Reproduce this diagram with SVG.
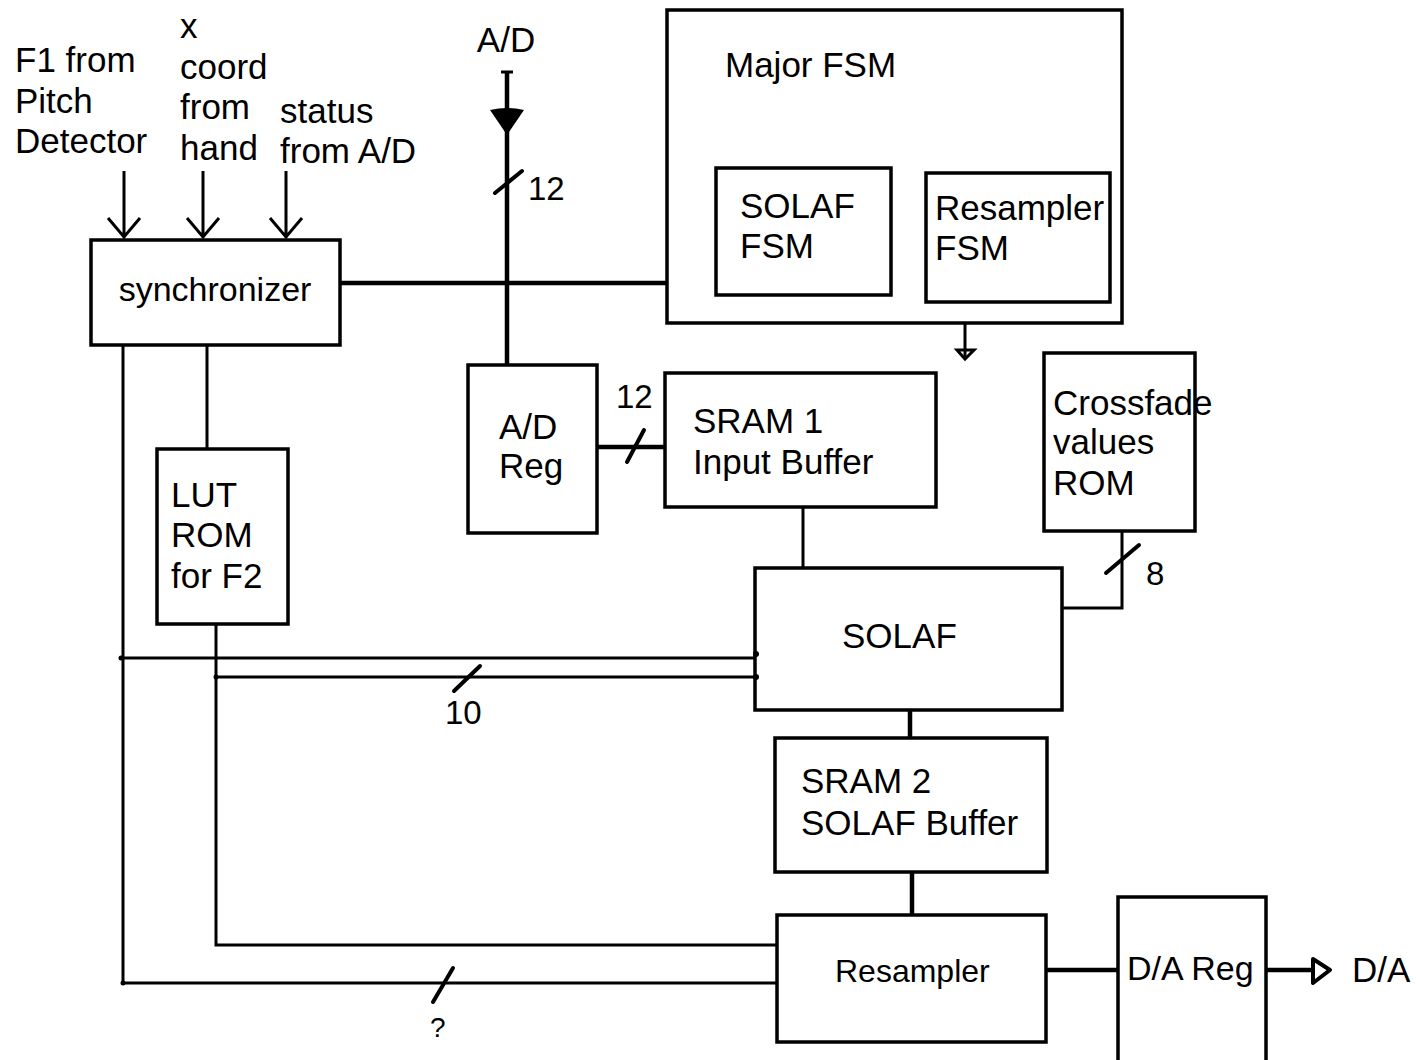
<svg xmlns="http://www.w3.org/2000/svg" width="1416" height="1060" viewBox="0 0 1416 1060">
<defs>
<style>
.box{fill:none;stroke:#000;stroke-width:3.5}
.w{fill:none;stroke:#000;stroke-width:3}
.tk{fill:none;stroke:#000;stroke-width:4.5}
.sl{fill:none;stroke:#000;stroke-width:4;stroke-linecap:round}
text{font-family:"Liberation Sans",Arial,sans-serif;font-size:35px;fill:#000}
.s34{font-size:34px}
.s32{font-size:32px}
.n{font-size:33px}
</style>
</defs>
<rect width="1416" height="1060" fill="#fff"/>

<g id="labels">
<text x="15" y="72">F1 from</text>
<text x="15" y="113">Pitch</text>
<text x="15" y="153">Detector</text>
<text x="180" y="38">x</text>
<text x="180" y="79">coord</text>
<text x="180" y="119">from</text>
<text x="180" y="160">hand</text>
<text x="280" y="123">status</text>
<text x="280" y="163">from A/D</text>
<text x="506" y="52" text-anchor="middle">A/D</text>
<text x="1352" y="982">D/A</text>
</g>

<g id="synchronizer">
<rect class="box" x="91" y="240" width="249" height="105"/>
<text class="s34" x="215" y="301" text-anchor="middle">synchronizer</text>
</g>

<g id="major-fsm">
<rect class="box" x="667" y="10" width="455" height="313"/>
<text x="725" y="77">Major FSM</text>
</g>

<g id="solaf-fsm">
<rect class="box" x="716" y="168" width="175" height="127"/>
<text x="740" y="218">SOLAF</text>
<text x="740" y="258">FSM</text>
</g>

<g id="resampler-fsm">
<rect class="box" x="926" y="173" width="184" height="129"/>
<text x="935" y="220">Resampler</text>
<text x="935" y="260">FSM</text>
</g>

<g id="ad-reg">
<rect class="box" x="468" y="365" width="129" height="168"/>
<text x="499" y="439">A/D</text>
<text x="499" y="478">Reg</text>
</g>

<g id="sram1">
<rect class="box" x="665" y="373" width="271" height="134"/>
<text x="693" y="433">SRAM 1</text>
<text x="693" y="474">Input Buffer</text>
</g>

<g id="crossfade-rom">
<rect class="box" x="1044" y="353" width="151" height="178"/>
<text x="1053" y="415">Crossfade</text>
<text x="1053" y="454">values</text>
<text x="1053" y="495">ROM</text>
</g>

<g id="lut-rom">
<rect class="box" x="157" y="449" width="131" height="175"/>
<text x="171" y="507">LUT</text>
<text x="171" y="547">ROM</text>
<text x="171" y="588">for F2</text>
</g>

<g id="solaf">
<rect class="box" x="755" y="568" width="307" height="142"/>
<text x="842" y="648">SOLAF</text>
</g>

<g id="sram2">
<rect class="box" x="775" y="738" width="272" height="134"/>
<text x="801" y="793">SRAM 2</text>
<text x="801" y="835">SOLAF Buffer</text>
</g>

<g id="resampler">
<rect class="box" x="777" y="915" width="269" height="127"/>
<text class="s32" x="835" y="982">Resampler</text>
</g>

<g id="da-reg">
<rect class="box" x="1118" y="897" width="148" height="175"/>
<text class="s34" x="1127" y="980">D/A Reg</text>
</g>

<g id="connectors">
<!-- inputs to synchronizer -->
<path class="w" d="M124,171V238M108,218L124,237L140,218"/>
<path class="w" d="M203,171V238M187,218L203,237L219,218"/>
<path class="w" d="M286,171V238M270,218L286,237L302,218"/>
<!-- synchronizer to Major FSM -->
<path class="tk" d="M340,283H667"/>
<!-- A/D input -->
<path class="tk" d="M507,72V365"/>
<path class="w" d="M501,72H513"/>
<path d="M490,110Q507,106 524,110L509,132L505,132Z" fill="#000"/>
<path class="sl" d="M495,193L522,171"/>
<text class="n" x="528" y="200">12</text>
<!-- A/D Reg to SRAM 1 -->
<path class="tk" d="M597,447H665"/>
<path class="sl" d="M627,462L644,430"/>
<text class="n" x="616" y="408">12</text>
<!-- Major FSM down arrow -->
<path class="w" d="M965,323V359"/>
<path class="w" d="M957,350H974L965,359Z" stroke-width="2.5"/>
<!-- SRAM1 to SOLAF -->
<path class="w" d="M803,507V568"/>
<!-- Crossfade ROM to SOLAF -->
<path class="w" d="M1122,531V608H1062"/>
<path class="sl" d="M1106,573L1139,545"/>
<text class="n" x="1146" y="585">8</text>
<!-- SOLAF to SRAM2 -->
<path class="tk" d="M910,710V738"/>
<!-- SRAM2 to Resampler -->
<path class="tk" d="M912,872V915"/>
<!-- Resampler to D/A Reg -->
<path class="tk" d="M1046,970H1118"/>
<!-- D/A Reg output -->
<path class="tk" d="M1266,970H1312"/>
<path d="M1313,959L1330,970L1313,983Z" fill="none" stroke="#000" stroke-width="4" stroke-linejoin="round"/>
<!-- synchronizer to LUT ROM -->
<path class="w" d="M207,345V449"/>
<!-- synchronizer to Resampler -->
<path class="w" d="M123,345V983H777"/>
<path class="w" d="M120,658H755"/>
<!-- LUT ROM to Resampler -->
<path class="w" d="M216,624V945H777"/>
<path class="w" d="M215,677H755"/>
<path class="sl" d="M454,691L480,666"/>
<text class="n" x="445" y="724">10</text>
<path class="sl" d="M433,1002L453,968"/>
<text class="n" font-size="28" x="430" y="1037" style="font-size:28px">?</text>
<circle cx="121" cy="658" r="2.5"/>
<circle cx="216" cy="677" r="2.5"/>
<circle cx="123" cy="983" r="2.5"/>
<circle cx="756" cy="654" r="3"/>
<circle cx="756" cy="677" r="3"/>
</g>
</svg>
